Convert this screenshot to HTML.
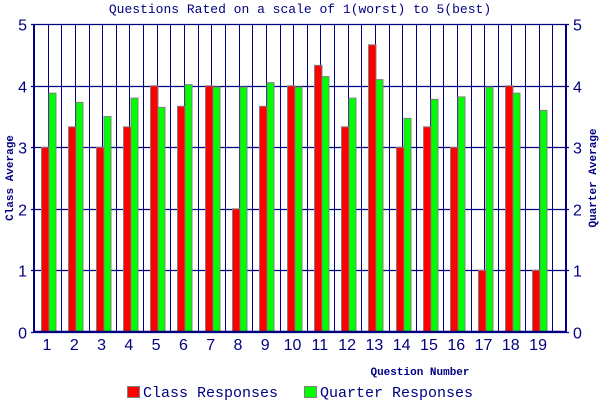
<!DOCTYPE html>
<html><head><style>body{margin:0;background:#fff}svg{display:block}</style></head>
<body>
<svg id="s" width="600" height="400" xmlns="http://www.w3.org/2000/svg" font-family="Liberation Mono, monospace" fill="#000080">
<rect width="600" height="400" fill="#fff"/>
<text x="300" y="13" text-anchor="middle" font-size="13">Questions Rated on a scale of 1(worst) to 5(best)</text>
<g id="g"></g>
<text transform="translate(13,178) rotate(-90)" text-anchor="middle" font-size="11" font-weight="bold">Class Average</text>
<text transform="translate(596,178) rotate(-90)" text-anchor="middle" font-size="11" font-weight="bold">Quarter Average</text>
<text x="420" y="375" text-anchor="middle" font-size="11" font-weight="bold">Question Number</text>
<rect x="127.5" y="386.5" width="12" height="11" fill="#f00" stroke="#808080"/>
<text x="143" y="397" font-size="15">Class Responses</text>
<rect x="304.5" y="386.5" width="12" height="11" fill="#0f0" stroke="#808080"/>
<text x="320" y="397" font-size="15">Quarter Responses</text>
</svg>
<script>
var g=document.getElementById('g'),h='';
var L=34,R=566,T=24.3,B=331.8,u=(B-T)/5,w=(R-L)/19.5;
var red=[3,3.333,3,3.333,4,3.667,4,2,3.667,4,4.333,3.333,4.667,3,3.333,3,1,4,1];
var grn=[3.88,3.73,3.5,3.8,3.65,4.02,3.98,3.98,4.05,3.98,4.15,3.8,4.1,3.47,3.78,3.82,3.98,3.88,3.6];
for(var k=1;k<39;k++){var x=Math.round(L+k*w/2)+.5;h+='<line x1="'+x+'" y1="'+T+'" x2="'+x+'" y2="'+B+'" stroke="#000080"/>';}
for(var v=0;v<=5;v++){var y=Math.round(B-v*u)+.5;h+='<line x1="'+(L-3)+'" y1="'+y+'" x2="'+(R+3)+'" y2="'+y+'" stroke="#000080" stroke-width="1.3"/>';
h+='<text x="'+(L-7)+'" y="'+(y+6)+'" text-anchor="end" font-size="16" font-family="Liberation Sans, sans-serif">'+v+'</text>';
h+='<text x="'+(R+7)+'" y="'+(y+6)+'" font-size="16" font-family="Liberation Sans, sans-serif">'+v+'</text>';}
for(var i=0;i<19;i++){var x0=Math.round(L+i*w+7)+.5;
var yr=B-red[i]*u,yg=B-grn[i]*u;
h+='<rect x="'+x0+'" y="'+yr+'" width="7.5" height="'+(B-yr)+'" fill="#f00" stroke="#808080"/>';
h+='<rect x="'+(x0+7.5)+'" y="'+yg+'" width="7" height="'+(B-yg)+'" fill="#0f0" stroke="#808080"/>';
h+='<text x="'+(L+i*w+13)+'" y="350" text-anchor="middle" font-size="16" font-family="Liberation Sans, sans-serif">'+(i+1)+'</text>';}
h+='<line x1="'+L+'" y1="'+T+'" x2="'+L+'" y2="'+(B+1)+'" stroke="#000080" stroke-width="2"/>';
h+='<line x1="'+R+'" y1="'+T+'" x2="'+R+'" y2="'+(B+1)+'" stroke="#000080" stroke-width="2"/>';
h+='<line x1="'+L+'" y1="'+B+'" x2="'+R+'" y2="'+B+'" stroke="#000080" stroke-width="2"/>';
g.innerHTML=h;
</script>
</body></html>
